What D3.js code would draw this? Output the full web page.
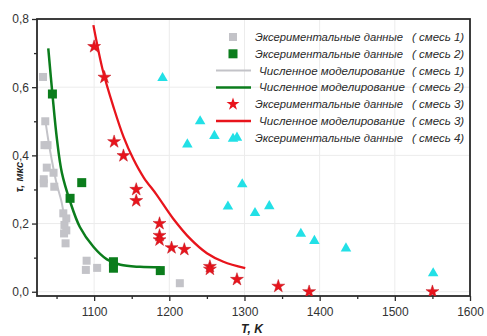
<!DOCTYPE html>
<html><head><meta charset="utf-8">
<script src="https://cdn.jsdelivr.net/npm/d3@7"></script>
<style>body{margin:0;background:#fff}svg{display:block}</style>
</head><body>
<svg id="c" width="487" height="336"></svg>
<script>
// ---- data ----
const mix1Exp = [[1032,0.63],[1035,0.50],[1034,0.43],[1038,0.43],[1037,0.364],[1033,0.33],[1033,0.318],[1046,0.349],[1047,0.308],[1059,0.23],[1060.5,0.196],[1060,0.171],[1062,0.142],[1063,0.215],[1063,0.18],[1090,0.091],[1089,0.064],[1104,0.070],[1214,0.025]];
const mix2Exp = [[1044.5,0.58],[1068,0.274],[1083.5,0.32],[1125.7,0.088],[1125.7,0.069],[1188,0.062]];
const mix3Exp = [[1100,0.719],[1113.7,0.629],[1126.6,0.44],[1139,0.399],[1156,0.30],[1156,0.267],[1187,0.20],[1187,0.165],[1187,0.152],[1203,0.129],[1220,0.124],[1254,0.074],[1254,0.066],[1290,0.036],[1345,0.016],[1386,0.0],[1550,0.0]];
const mix4Exp = [[1191,0.63],[1241,0.503],[1224,0.435],[1260,0.46],[1290,0.455],[1297,0.318],[1278,0.253],[1314,0.234],[1333,0.254],[1375,0.173],[1393,0.152],[1435,0.13],[1551,0.057]];
const mix1Model = [[1035,0.504],[1039,0.445],[1043.7,0.386],[1050,0.318],[1057,0.26],[1062,0.19]];
const mix2Model = [[1039,0.714],[1044.5,0.58],[1050.4,0.45],[1057,0.35],[1068,0.265],[1081,0.19],[1099,0.132],[1117,0.095],[1135,0.079],[1161,0.073],[1188,0.0715]];
const mix3Model = [[1099,0.782],[1112,0.645],[1126,0.54],[1139,0.455],[1152,0.39],[1166,0.335],[1183,0.285],[1205,0.215],[1228,0.155],[1250,0.113],[1272,0.088],[1301,0.069]];
const xTicks = [1100,1200,1300,1400,1500,1600];
const xMinor = [1050,1150,1250,1350,1450,1550];
const yTicks = [0,0.2,0.4,0.6,0.8];
const yMinor = [0.1,0.3,0.5,0.7];
const legendLabels = ["Эксериментальные данные","Эксериментальные данные","Численное моделирование","Численное моделирование","Эксериментальные данные","Численное моделирование","Эксериментальные данные"];
const legendMix = ["( смесь 1)","( смесь 2)","( смесь 1)","( смесь 2)","( смесь 3)","( смесь 3)","( смесь 4)"];
const legendKind = ["sq1","sq2","line1","line2","star","line3","tri"];
const xLabel = "T, K";
const yLabel = "τ, мкс";

// ---- style ----
const C = {gray:"#c3c3c8", green:"#0b7d1c", red:"#e8141c", cyan:"#22e0e6", frame:"#2a2a2a", grid:"#ececec", text:"#333"};
const FONT = "Liberation Sans, Arial, sans-serif";

const svg = d3.select("#c");
const L=37, R=470, T=19, B=296;
const x = d3.scaleLinear().domain([1024,1600]).range([L,R]);
const y = d3.scaleLinear().domain([-0.0125,0.8]).range([B,T]);

// grid
svg.append("g").selectAll("line").data(xTicks).join("line")
  .attr("x1",d=>x(d)).attr("x2",d=>x(d)).attr("y1",T).attr("y2",B)
  .attr("stroke",C.grid).attr("stroke-width",1);
svg.append("g").selectAll("line").data(yTicks).join("line")
  .attr("x1",L).attr("x2",R).attr("y1",d=>y(d)).attr("y2",d=>y(d))
  .attr("stroke",C.grid).attr("stroke-width",1);

// axes
const fmt = d=>d3.format(".1f")(d).replace(".",",");
const xAxis = svg.append("g").attr("transform",`translate(0,${B})`)
  .call(d3.axisBottom(x).tickValues(xTicks).tickSize(5).tickPadding(6).tickFormat(d3.format("d")));
const xAxisMin = svg.append("g").attr("transform",`translate(0,${B})`)
  .call(d3.axisBottom(x).tickValues(xMinor).tickSize(3).tickFormat(""));
const yAxis = svg.append("g").attr("transform",`translate(${L},0)`)
  .call(d3.axisLeft(y).tickValues(yTicks).tickSize(5).tickPadding(3).tickFormat(fmt));
const yAxisMin = svg.append("g").attr("transform",`translate(${L},0)`)
  .call(d3.axisLeft(y).tickValues(yMinor).tickSize(3).tickFormat(""));
[xAxis,xAxisMin,yAxis,yAxisMin].forEach(g=>{
  g.select(".domain").remove();
  g.selectAll("line").attr("stroke",C.frame).attr("stroke-width",1.3);
  g.selectAll("text").attr("fill",C.text).style("font-family",FONT).style("font-size","12px");
});

// frame
svg.append("rect").attr("x",L).attr("y",T).attr("width",R-L).attr("height",B-T)
  .attr("fill","none").attr("stroke",C.frame).attr("stroke-width",1.8);

// clip
svg.append("clipPath").attr("id","clp").append("rect").attr("x",L).attr("y",T).attr("width",R-L).attr("height",B-T);
const plot = svg.append("g").attr("clip-path","url(#clp)");

const line = d3.line().x(d=>x(d[0])).y(d=>y(d[1])).curve(d3.curveCatmullRom.alpha(0.5));

plot.append("g").selectAll("rect").data(mix1Exp).join("rect")
  .attr("x",d=>x(d[0])-4).attr("y",d=>y(d[1])-4).attr("width",8).attr("height",8).attr("fill",C.gray);
plot.append("path").datum(mix1Model).attr("d",line).attr("fill","none").attr("stroke",C.gray).attr("stroke-width",2);

plot.append("g").selectAll("rect").data(mix2Exp).join("rect")
  .attr("x",d=>x(d[0])-4.5).attr("y",d=>y(d[1])-4.5).attr("width",9).attr("height",9).attr("fill",C.green);
plot.append("path").datum(mix2Model).attr("d",line).attr("fill","none").attr("stroke",C.green).attr("stroke-width",2.5);

const star = d3.symbol().type(d3.symbolStar).size(52);
plot.append("g").selectAll("path").data(mix3Exp).join("path")
  .attr("transform",d=>`translate(${x(d[0])},${y(d[1])})`).attr("d",star)
  .attr("fill",C.red).attr("stroke","#c0101a").attr("stroke-width",0.5);
plot.append("path").datum(mix3Model).attr("d",line).attr("fill","none").attr("stroke",C.red).attr("stroke-width",2.3);

const tri = d3.symbol().type(d3.symbolTriangle).size(48);
plot.append("g").selectAll("path").data(mix4Exp).join("path")
  .attr("transform",d=>`translate(${x(d[0])},${y(d[1])+1})`).attr("d",tri).attr("fill",C.cyan);

// legend
const lg = svg.append("g");
const rowY = i => 37 + i*16.8;
legendKind.forEach((k,i)=>{
  const yy = rowY(i), cx = 233;
  if(k==="sq1") lg.append("rect").attr("x",cx-4).attr("y",yy-4).attr("width",8).attr("height",8).attr("fill",C.gray);
  if(k==="sq2") lg.append("rect").attr("x",cx-4.5).attr("y",yy-4.5).attr("width",9).attr("height",9).attr("fill",C.green);
  if(k==="star") lg.append("path").attr("transform",`translate(${cx},${yy})`).attr("d",star).attr("fill",C.red);
  if(k==="tri") lg.append("path").attr("transform",`translate(${cx},${yy+1})`).attr("d",tri).attr("fill",C.cyan);
  if(k.startsWith("line")) {
    const col = k==="line1"?C.gray:(k==="line2"?C.green:C.red);
    lg.append("line").attr("x1",216).attr("x2",251).attr("y1",yy).attr("y2",yy).attr("stroke",col).attr("stroke-width",k==="line1"?2:2.5);
  }
  const isLine = k.startsWith("line");
  const tx = isLine ? 259 : 255;
  lg.append("text").attr("x",tx).attr("y",yy+4).text(legendLabels[i])
    .attr("textLength", isLine ? 146 : 148).attr("lengthAdjust","spacingAndGlyphs")
    .attr("fill","#2a2a2a").style("font-family",FONT).style("font-style","italic").style("font-size","11.5px");
  lg.append("text").attr("x",412).attr("y",yy+4).text(legendMix[i])
    .attr("fill","#2a2a2a").style("font-family",FONT).style("font-style","italic").style("font-size","11.5px");
});

// axis titles
svg.append("text").attr("x",252).attr("y",333).attr("text-anchor","middle").text(xLabel)
  .attr("fill","#222").style("font-family",FONT).style("font-style","italic").style("font-weight","bold").style("font-size","12px");
svg.append("text").attr("transform","translate(23,177) rotate(-90)").attr("text-anchor","middle").text(yLabel)
  .attr("fill","#222").style("font-family",FONT).style("font-style","italic").style("font-weight","bold").style("font-size","11px");
</script>
</body></html>
